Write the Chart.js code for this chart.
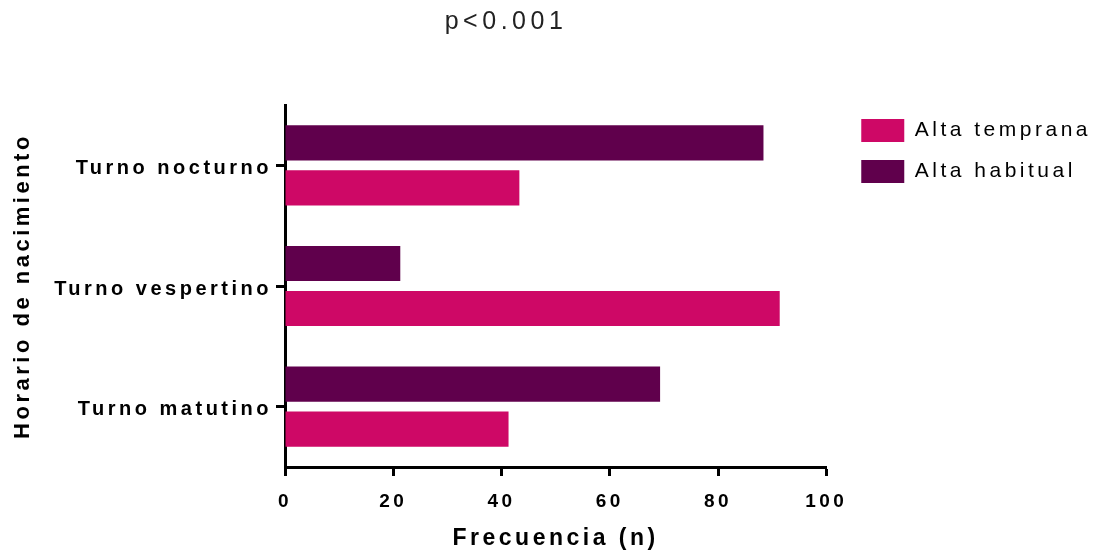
<!DOCTYPE html>
<html>
<head>
<meta charset="utf-8">
<script src="https://cdn.jsdelivr.net/npm/chart.js@4/dist/chart.umd.min.js"></script>
<style>
  body { margin: 0; background: #fff; }
</style>
</head>
<body>
<canvas id="turnoChart" width="1110" height="556"></canvas>
<script>
const turnos = ["Turno nocturno", "Turno vespertino", "Turno matutino"];
const altaHabitual = [88.4, 21.3, 69.3];
const altaTemprana = [43.3, 91.4, 41.3];
const xTicks = [0, 20, 40, 60, 80, 100];
const pValue = "p<0.001";

const fontFamily = "'Liberation Sans', Arial, sans-serif";
const letterGap = "3.5px";

// canvas letterSpacing is reset when the canvas is resized, so set it before measuring and drawing
const spacing = {
    id: "spacing",
    beforeUpdate(chart) { chart.ctx.letterSpacing = letterGap; },
    beforeLayout(chart) { chart.ctx.letterSpacing = letterGap; },
    beforeDraw(chart) {
        chart.ctx.letterSpacing = letterGap;
        // push legend a bit further from the plot, like the original
        const lg = chart.legend;
        const w = lg.right - lg.left;
        lg.left = chart.chartArea.right + 17;
        lg.right = lg.left + w;
        lg.top = chart.chartArea.top - 4;
    }
};

const pTitle = {
    id: "pTitle",
    afterDraw(chart) {
        const ctx = chart.ctx;
        ctx.save();
        ctx.letterSpacing = "4.5px";
        ctx.font = "25px " + fontFamily;
        ctx.fillStyle = "#222";
        ctx.textAlign = "center";
        ctx.textBaseline = "middle";
        ctx.fillText(pValue, 506, 22);
        ctx.restore();
    }
};

const data = {
    labels: turnos,
    datasets: [{
            label: "Alta habitual",
            data: altaHabitual,
            backgroundColor: "#60004C",
        }, {
            label: "Alta temprana",
            data: altaTemprana,
            backgroundColor: "#CE0866",
        }
    ],
};

const config = {
    type: "bar",
    data: data,
    plugins: [spacing, pTitle],
    options: {
        responsive: false,
        animation: false,
        indexAxis: "y",
        barPercentage: 0.78,
        categoryPercentage: 0.746,
        layout: { padding: { top: 105, right: 26, bottom: 0, left: 0 } },
        plugins: {
            tooltip: { enabled: false },
            legend: {
                position: "right",
                align: "start",
                reverse: true,
                labels: {
                    boxWidth: 43,
                    boxHeight: 23,
                    padding: 18,
                    color: "#000",
                    font: { family: fontFamily, size: 21 },
                },
            },
        },
        scales: {
            x: {
                min: 0,
                max: 100,
                afterBuildTicks: scale => { scale.ticks = xTicks.map(v => ({ value: v })); },
                afterFit: scale => { scale.height = 89; },
                border: { color: "#000", width: 3 },
                grid: { drawOnChartArea: false, tickLength: 9, tickWidth: 3, tickColor: "#000" },
                ticks: {
                    padding: 14,
                    color: "#000",
                    maxRotation: 0,
                    font: { family: fontFamily, size: 19, weight: "bold" },
                },
                title: {
                    display: true,
                    text: "Frecuencia (n)",
                    color: "#000",
                    padding: { top: 0, bottom: 4 },
                    font: { family: fontFamily, size: 23, weight: "bold" },
                },
            },
            y: {
                afterFit: scale => { scale.width = 285; },
                border: { color: "#000", width: 3 },
                grid: { offset: false, drawOnChartArea: false, tickLength: 9, tickWidth: 3, tickColor: "#000" },
                ticks: {
                    padding: 4,
                    labelOffset: 3,
                    color: "#000",
                    font: { family: fontFamily, size: 20, weight: "bold" },
                },
                title: {
                    display: true,
                    text: "Horario de nacimiento",
                    color: "#000",
                    padding: { top: 10, bottom: 0 },
                    font: { family: fontFamily, size: 22, weight: "bold" },
                },
            },
        },
    },
};

const turnoChart = new Chart(document.getElementById("turnoChart"), config);
</script>
</body>
</html>
